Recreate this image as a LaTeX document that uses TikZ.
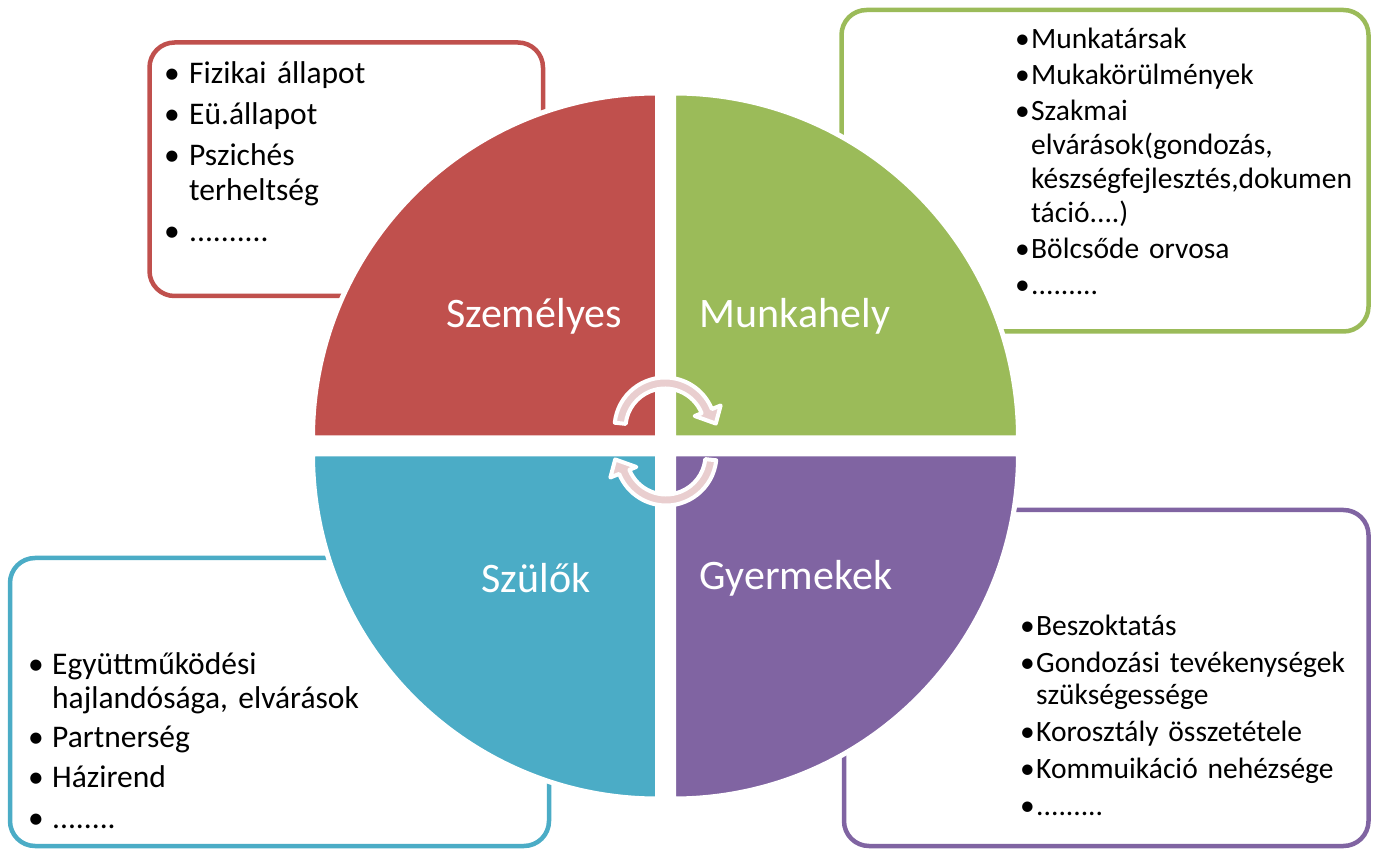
\documentclass[tikz,border=0pt]{standalone}
\usepackage{fontspec}
\setmainfont{Carlito}
\usepackage{tikz}
\usetikzlibrary{calc}

\definecolor{szemred}{HTML}{C0504D}
\definecolor{munkagreen}{HTML}{9BBB59}
\definecolor{szulobl}{HTML}{4BACC6}
\definecolor{gyerpurple}{HTML}{8064A2}
\definecolor{nyilpink}{RGB}{233,206,207}

% felsorolasjel fix szelessegu dobozban
\newcommand{\pont}[1]{\makebox[#1][l]{\textbullet}}

\begin{document}
\begin{tikzpicture}[x=1pt, y=1pt,
    doboz/.style={line width=4.5pt, rounded corners=25pt, fill=white},
    negyed/.style={draw=white, line width=5pt},
    felirat/.style={text=white, font=\fontsize{42}{50}\selectfont},
    lista/.style={anchor=base west, inner sep=0pt, align=left, text width=400pt},
    nagybetu/.style={font=\fontsize{31.5}{35}\selectfont},
    kisbetu/.style={font=\fontsize{29.5}{34}\selectfont},
    nyil/.style={fill=nyilpink, draw=white, line width=4pt, line join=round}]

    \useasboundingbox (0,0) rectangle (1379,852);

    % =========================================
    % 1. KERETES DOBOZOK A SAROKBAN
    % =========================================
    \draw[doboz, draw=szemred]    (149.5,809.5) rectangle (543,556);
    \draw[doboz, draw=munkagreen] (841.5,842)   rectangle (1368.5,520.5);
    \draw[doboz, draw=szulobl]    (10,294)      rectangle (549,6);
    \draw[doboz, draw=gyerpurple] (844,342)     rectangle (1368.5,6);

    % =========================================
    % 2. A KOR NEGY NEGYEDE (feher szegellyel)
    % =========================================
    \filldraw[negyed, fill=szemred]    (657.5,414) -- ++(-345,0) arc (180:90:345) -- cycle;
    \filldraw[negyed, fill=munkagreen] (673.5,414) -- ++(0,345) arc (90:0:345) -- cycle;
    \filldraw[negyed, fill=szulobl]    (657.5,398) -- ++(-345,0) arc (180:270:345) -- cycle;
    \filldraw[negyed, fill=gyerpurple] (673.5,398) -- ++(345,0) arc (0:-90:345) -- cycle;

    % =========================================
    % 3. KOZEPSO KORBEFORGO NYILAK
    % =========================================
    \foreach \forg in {0,180}
        \filldraw[nyil, rotate around={\forg:(665.5,410.5)}, shift={(665,424)}]
            (174:50.5) arc (174:22:50.5) -- (22:60) -- (5:51) -- (22:32)
            -- (22:39.5) arc (22:174:39.5) -- cycle;

    % =========================================
    % 4. NEGYEDEK FELIRATAI
    % =========================================
    \node[felirat] (szemelyes) at (534,536) {Személyes};
    \node[felirat] (munkahely) at (795,536) {Munkahely};
    \node[felirat] (szulok)    at (536,274) {Szülők};
    \node[felirat] (gyermekek) at (796,274) {Gyermekek};

    % =========================================
    % 5. FELSOROLASOK A DOBOZOKBAN
    % =========================================
    \node[lista, nagybetu] (szemlista) at (164,768) {%
        \pont{25pt}Fizikai állapot\\[6pt]
        \pont{25pt}Eü.állapot\\[6pt]
        \pont{25pt}Pszichés\\
        \hspace*{25pt}terheltség\\[6pt]
        \pont{25pt}..........};

    \node[lista, kisbetu] (munkalista) at (1015,803) {%
        \pont{16pt}Munkatársak\\[2pt]
        \pont{16pt}Mukakörülmények\\[2pt]
        \pont{16pt}Szakmai\\
        \hspace*{16pt}elvárások(gondozás,\\
        \hspace*{16pt}készségfejlesztés,dokumen\\
        \hspace*{16pt}táció....)\\[2pt]
        \pont{16pt}Bölcsőde orvosa\\[2pt]
        \pont{16pt}.........};

    \node[lista, nagybetu] (szulolista) at (28,178) {%
        \pont{24pt}Együttműködési\\[-1pt]
        \hspace*{24pt}hajlandósága, elvárások\\[5pt]
        \pont{24pt}Partnerség\\[5pt]
        \pont{24pt}Házirend\\[5pt]
        \pont{24pt}........};

    \node[lista, kisbetu] (gyerlista) at (1020,216) {%
        \pont{16pt}Beszoktatás\\[3pt]
        \pont{16pt}Gondozási tevékenységek\\[-2pt]
        \hspace*{16pt}szükségessége\\[3pt]
        \pont{16pt}Korosztály összetétele\\[3pt]
        \pont{16pt}Kommuikáció nehézsége\\[3pt]
        \pont{16pt}.........};

\end{tikzpicture}
\end{document}
